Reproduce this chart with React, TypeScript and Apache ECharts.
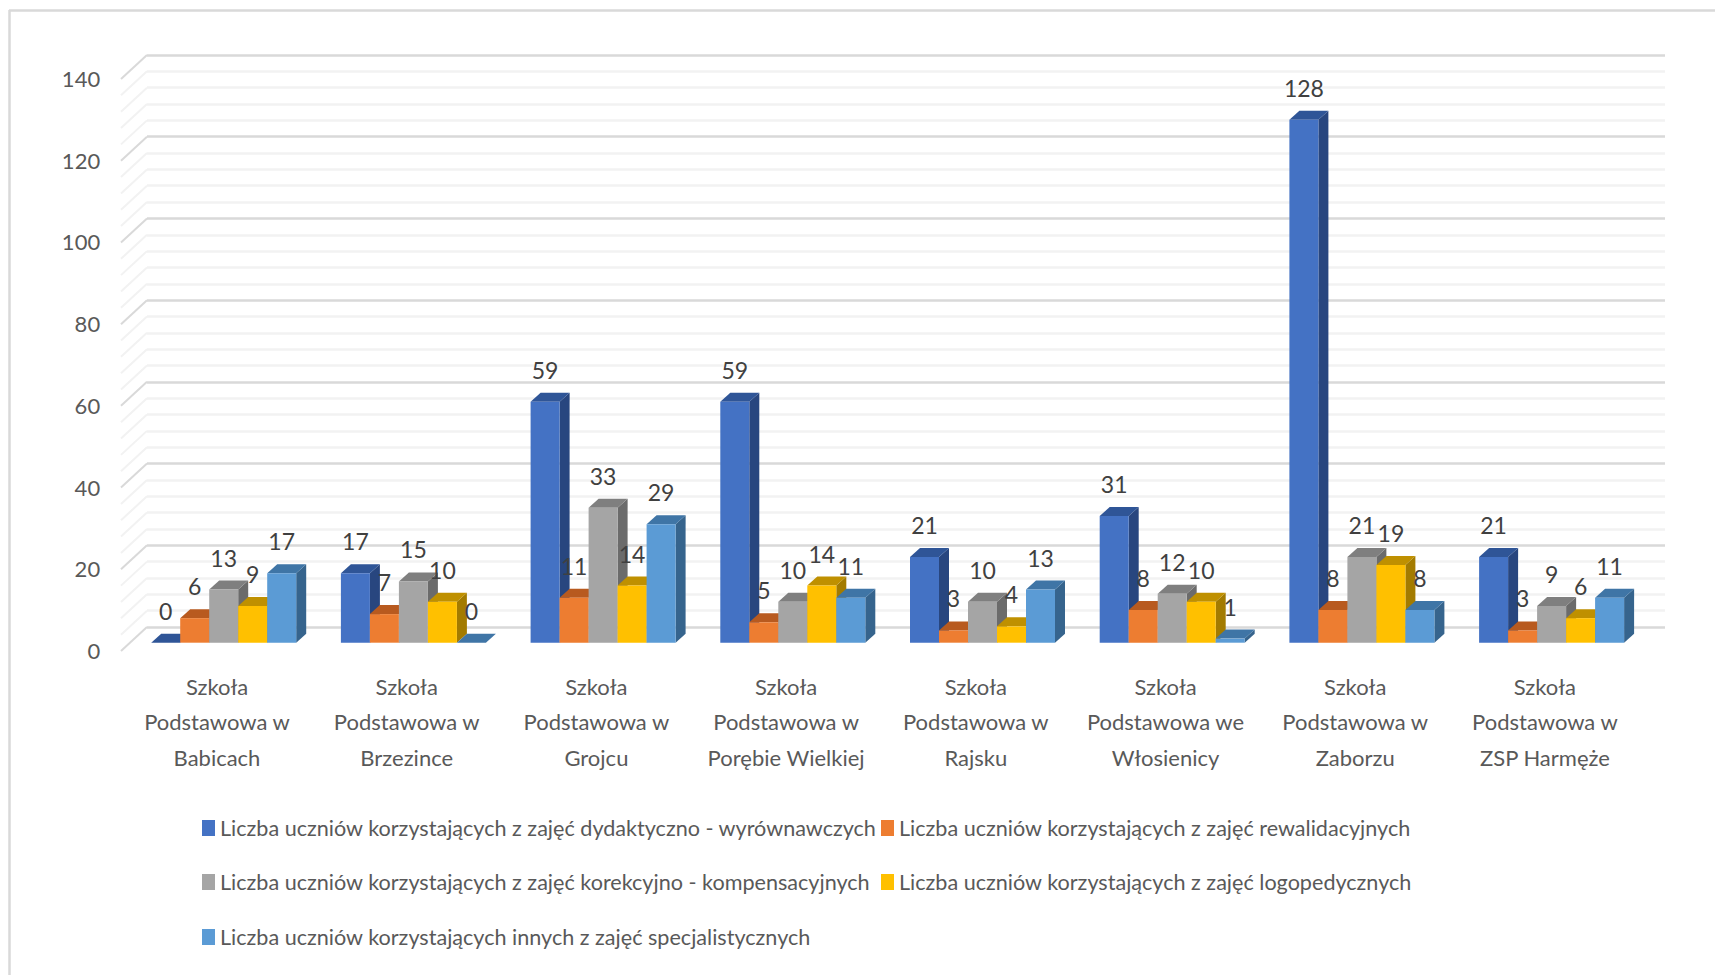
import React, { useEffect, useRef } from "react";
import * as echarts from "echarts";

const categories = [
  "Szkoła\nPodstawowa w\nBabicach",
  "Szkoła\nPodstawowa w\nBrzezince",
  "Szkoła\nPodstawowa w\nGrojcu",
  "Szkoła\nPodstawowa w\nPorębie Wielkiej",
  "Szkoła\nPodstawowa w\nRajsku",
  "Szkoła\nPodstawowa we\nWłosienicy",
  "Szkoła\nPodstawowa w\nZaborzu",
  "Szkoła\nPodstawowa w\nZSP Harmęże",
];
const nameA = "Liczba uczniów korzystających z zajęć dydaktyczno - wyrównawczych";
const nameB = "Liczba uczniów korzystających z zajęć rewalidacyjnych";
const nameC = "Liczba uczniów korzystających z zajęć korekcyjno - kompensacyjnych";
const nameD = "Liczba uczniów korzystających z zajęć logopedycznych";
const nameE = "Liczba uczniów korzystających innych z zajęć specjalistycznych";
const valuesA = [0, 17, 59, 59, 21, 31, 128, 21];
const valuesB = [6, 7, 11, 5, 3, 8, 8, 3];
const valuesC = [13, 15, 33, 10, 10, 12, 21, 9];
const valuesD = [9, 10, 14, 14, 4, 10, 19, 6];
const valuesE = [17, 0, 29, 11, 13, 1, 8, 11];
const wallTicks = [
  0, 4, 8, 12, 16, 20, 24, 28, 32, 36, 40, 44, 48, 52, 56, 60, 64, 68, 72, 76, 80,
  84, 88, 92, 96, 100, 104, 108, 112, 116, 120, 124, 128, 132, 136, 140,
];

const FONT = "Lato, 'Liberation Sans', sans-serif";
const BAR_W = 29;
const DEPTH_X = 10;
const DEPTH_Y = 9;
const BAND = 189.7;
const PALETTES = [
  { front: "#4472C4", top: "#2F5597", side: "#28467F" },
  { front: "#ED7D31", top: "#B85A1F", side: "#A94F1A" },
  { front: "#A5A5A5", top: "#7F7F7F", side: "#6B6B6B" },
  { front: "#FFC000", top: "#BF9000", side: "#A37B00" },
  { front: "#5B9BD5", top: "#3F75A6", side: "#36648D" },
];

function barSeries(name: string, values: number[], index: number) {
  const p = PALETTES[index];
  return {
    type: "custom",
    name,
    xAxisIndex: 1,
    yAxisIndex: 1,
    itemStyle: { color: p.front },
    encode: { x: 0, y: 1 },
    data: values.map((v, i) => [i, v]),
    renderItem: (_params: any, api: any) => {
      const c = api.coord([api.value(0), api.value(1)]);
      const base = api.coord([api.value(0), 0]);
      const x = c[0] - BAND / 2 + 22.35 + index * BAR_W;
      const y = c[1];
      const children: any[] = [
        {
          type: "polygon",
          shape: { points: [[x + BAR_W, y], [x + BAR_W + DEPTH_X, y - DEPTH_Y], [x + BAR_W + DEPTH_X, base[1] - DEPTH_Y], [x + BAR_W, base[1]]] },
          style: { fill: p.side },
        },
        {
          type: "polygon",
          shape: { points: [[x, y], [x + DEPTH_X, y - DEPTH_Y], [x + BAR_W + DEPTH_X, y - DEPTH_Y], [x + BAR_W, y]] },
          style: { fill: p.top },
        },
        { type: "rect", shape: { x, y, width: BAR_W, height: base[1] - y }, style: { fill: p.front } },
        {
          type: "text",
          z2: 100,
          style: {
            x: x + BAR_W / 2,
            y: y - 32,
            text: String(api.value(1)),
            fill: "#404040",
            font: `23px ${FONT}`,
            align: "center",
            verticalAlign: "middle",
          },
        },
      ];
      return { type: "group", children };
    },
  };
}

function legendAt(name: string, left: number, top: number) {
  return {
    data: [{ name, icon: "rect" }],
    left,
    top,
    padding: 0,
    itemWidth: 13,
    itemHeight: 16,
    selectedMode: false,
    textStyle: { fontFamily: FONT, fontSize: 21.6, color: "#595959" },
  };
}

export default function App() {
  const ref = useRef<HTMLDivElement>(null);
  useEffect(() => {
    document.body.style.margin = "0";
    const chart = echarts.init(ref.current!, null, { renderer: "svg" });
    const hiddenValue = { type: "value", min: 0, max: 140, interval: 20, axisLabel: { show: false }, axisLine: { show: false }, axisTick: { show: false }, splitLine: { show: false } };
    const hiddenCat = { type: "category", data: categories, axisLabel: { show: false }, axisLine: { show: false }, axisTick: { show: false } };
    chart.setOption({
      animation: false,
      backgroundColor: "#ffffff",
      grid: [
        { left: 147, width: 1518, top: 55, height: 572 },
        { left: 128.85, width: 1517.6, top: 70.7, height: 572 },
        { left: 122.15, width: 1517.6, top: 78.5, height: 572 },
      ],
      xAxis: [
        { ...hiddenCat, gridIndex: 0 },
        { ...hiddenCat, gridIndex: 1 },
        {
          ...hiddenCat,
          gridIndex: 2,
          axisLabel: { show: true, interval: 0, margin: 18, fontFamily: FONT, fontSize: 22, lineHeight: 35.5, color: "#595959" },
        },
      ],
      yAxis: [
        {
          ...hiddenValue,
          gridIndex: 0,
          minorTick: { show: false, splitNumber: 5 },
          splitLine: { show: true, lineStyle: { color: "#D9D9D9", width: 2.5 } },
          minorSplitLine: { show: true, lineStyle: { color: "#F2F2F2", width: 2.5 } },
        },
        { ...hiddenValue, gridIndex: 1 },
        {
          ...hiddenValue,
          gridIndex: 2,
          axisLabel: { show: true, margin: 22, fontFamily: FONT, fontSize: 22, color: "#595959" },
        },
      ],
      legend: [
        legendAt(nameA, 202, 817),
        legendAt(nameB, 881, 817),
        legendAt(nameC, 202, 871),
        legendAt(nameD, 881, 871),
        legendAt(nameE, 202, 926),
      ],
      graphic: [
        { type: "line", shape: { x1: 9.5, y1: 10, x2: 9.5, y2: 975 }, style: { stroke: "#D9D9D9", lineWidth: 2.5 } },
        { type: "line", shape: { x1: 9, y1: 10.5, x2: 1715, y2: 10.5 }, style: { stroke: "#D9D9D9", lineWidth: 2.5 } },
      ],
      series: [
        {
          type: "custom",
          silent: true,
          xAxisIndex: 0,
          yAxisIndex: 0,
          z: 1,
          encode: { y: 0 },
          data: wallTicks.map((t) => [t]),
          renderItem: (params: any, api: any) => {
            const t = api.value(0);
            const p = api.coord([0, t]);
            const x = params.coordSys.x;
            return {
              type: "line",
              shape: { x1: x, y1: p[1], x2: x - 26, y2: p[1] + 24 },
              style: { stroke: t % 20 === 0 ? "#D9D9D9" : "#F2F2F2", lineWidth: 2 },
            };
          },
        },
        barSeries(nameA, valuesA, 0),
        barSeries(nameB, valuesB, 1),
        barSeries(nameC, valuesC, 2),
        barSeries(nameD, valuesD, 3),
        barSeries(nameE, valuesE, 4),
      ],
    });
    return () => chart.dispose();
  }, []);
  return <div ref={ref} style={{ width: 1715, height: 975 }} />;
}
